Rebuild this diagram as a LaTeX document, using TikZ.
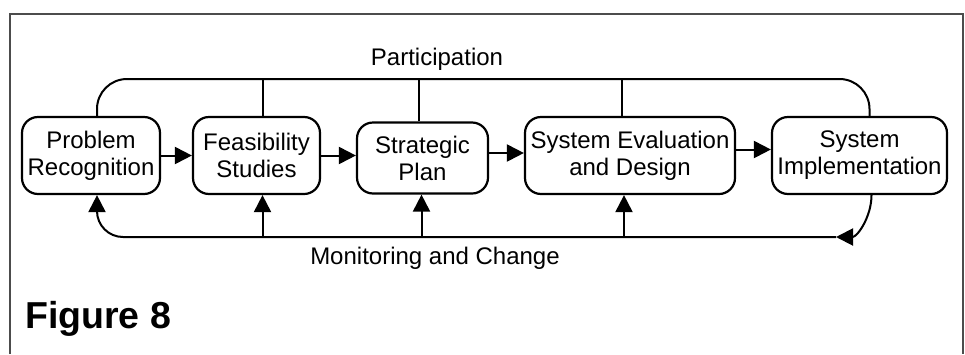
\documentclass[tikz,border=0pt]{standalone}
\usepackage{fontspec}
\setmainfont{Liberation Sans}
\usetikzlibrary{arrows.meta}
\tikzset{
  stage/.style={draw, line width=2.2pt, rounded corners=16pt, minimum height=77pt,
    inner sep=0pt, align=center, font=\fontsize{24}{27}\selectfont},
  link/.style={line width=2pt},
  feed/.style={line width=2pt, -{Triangle[length=17pt,width=17pt]}},
  caption/.style={font=\fontsize{24}{27}\selectfont, anchor=base},
}
\begin{document}
\begin{tikzpicture}[x=1pt, y=-1pt]
			%%%%% START %%%%%
			\useasboundingbox (0,0) rectangle (965,354);
			\draw[line width=1.3pt, color=black!70] (10,354) -- (10,14) -- (963,14) -- (963,354);
			
			\node[stage, minimum width=138pt] (prob) at (91,155.5) {Problem\\Recognition};
			\node[stage, minimum width=127pt] (feas) at (256.5,155.5) {Feasibility\\Studies};
			\node[stage, minimum width=131pt, minimum height=71pt] (strat) at (422.5,158) {Strategic\\Plan};
			\node[stage, minimum width=210pt] (sysev) at (630,155.5) {System Evaluation\\and Design};
			\node[stage, minimum width=175pt] (sysimp) at (859.5,155.5) {System\\Implementation};
			
			\draw[feed] (prob.east) -- (feas.west);
			\draw[feed] (feas.east) -- (feas.east -| strat.west);
			\draw[feed] ([yshift=5pt]strat.east) -- ([yshift=5pt]strat.east -| sysev.west);
			\draw[feed] ([yshift=6pt]sysev.east) -- ([yshift=6pt]sysev.east -| sysimp.west);
			
			% participation
			\coordinate (ptop) at (437,79);
			\draw[link, rounded corners=30pt] ([xshift=6pt]prob.north) |- (ptop) -| ([xshift=10pt]sysimp.north);
			\draw[link] ([xshift=6pt]feas.north) -- ([xshift=6pt]feas.north |- ptop);
			\draw[link] ([xshift=-4pt]strat.north) -- ([xshift=-4pt]strat.north |- ptop);
			\draw[link] ([xshift=-8pt]sysev.north) -- ([xshift=-8pt]sysev.north |- ptop);
			\node[caption] (part) at (437,65) {Participation};
			
			% monitoring and change
			\coordinate (mend) at (836,237);
			\draw[feed] ([xshift=12pt]sysimp.south) to[out=-90, in=0] (mend);
			\draw[feed, rounded corners=26pt] (mend) -| ([xshift=6pt]prob.south);
			\draw[feed] ([xshift=6pt]feas.south |- mend) -- ([xshift=6pt]feas.south);
			\draw[feed] ([xshift=-1pt]strat.south |- mend) -- ([xshift=-1pt]strat.south);
			\draw[feed] ([xshift=-6pt]sysev.south |- mend) -- ([xshift=-6pt]sysev.south);
			\node[caption] (mon) at (435,264) {Monitoring and Change};
			
			\node[font=\fontsize{37.5}{40}\selectfont\bfseries, anchor=base west, inner sep=0pt] (fig) at (25,328) {Figure 8};
			%%%%% END %%%%%
\end{tikzpicture}
\end{document}
